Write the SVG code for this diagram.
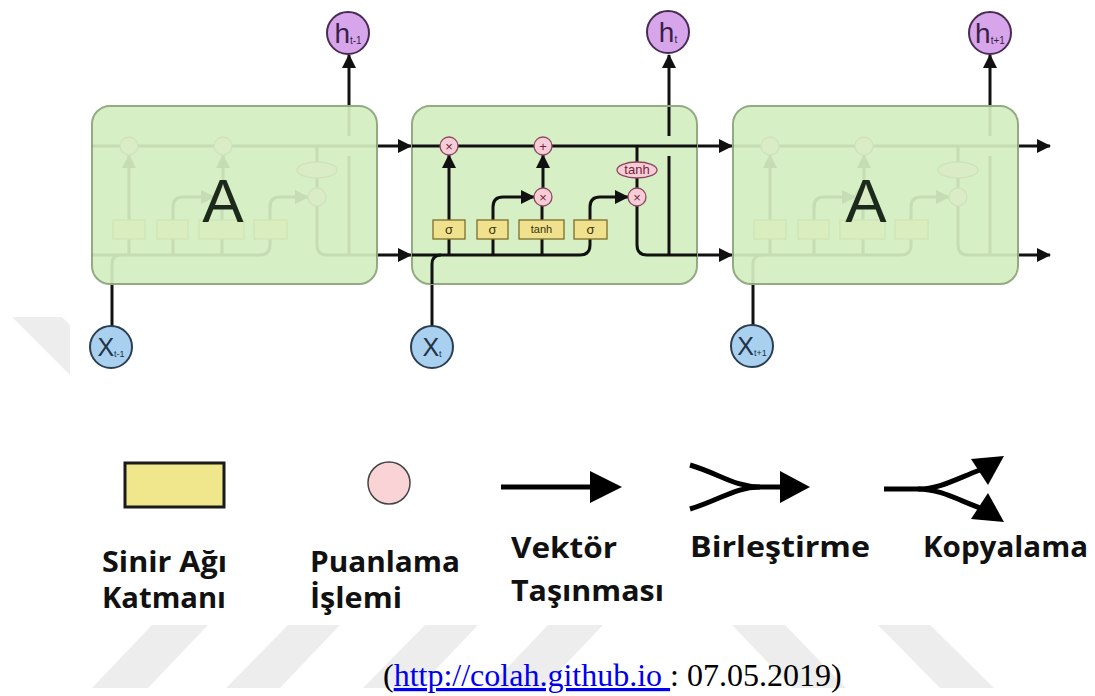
<svg xmlns="http://www.w3.org/2000/svg" xmlns:xlink="http://www.w3.org/1999/xlink" width="1095" height="696" viewBox="0 0 1095 696">
<style>
.cell{fill:#d7efc4;stroke:#93ab83;stroke-width:2}
.ln{fill:none;stroke:#111;stroke-width:3}
.la{fill:none;stroke:#111;stroke-width:3;marker-end:url(#ah)}
.op{fill:#f5cdd6;stroke:#8e4660;stroke-width:1.3}
.nn{fill:#f0e18e;stroke:#7d6d2a;stroke-width:1.3}
.opt{font-family:"Liberation Sans",Arial,sans-serif;font-size:13px;fill:#7a1c3c;text-anchor:middle}
.nnt{font-family:"Liberation Sans",Arial,sans-serif;fill:#3a3208;text-anchor:middle}
.hc{fill:#d7a6ea;stroke:#4a2a55;stroke-width:2}
.xc{fill:#a9d0ef;stroke:#2a3f55;stroke-width:2}
.ht{font-family:"Liberation Sans",Arial,sans-serif;fill:#3b1f48;text-anchor:middle}
.xt{font-family:"Liberation Sans",Arial,sans-serif;fill:#1f3347;text-anchor:middle}
.big{font-family:"Liberation Sans",Arial,sans-serif;font-size:62px;fill:#1c2a1c;text-anchor:middle}
.lg{font-family:"Open Sans","Liberation Sans",sans-serif;font-weight:bold;font-size:28px;fill:#111}
.wm{fill:#ededed}
.lgl{fill:none;stroke:#000;stroke-width:5}
</style>
<defs>
<marker id="ah" markerUnits="userSpaceOnUse" markerWidth="14" markerHeight="14" refX="13" refY="7" orient="auto">
<path d="M0,0 L14,7 L0,14 z" fill="#111"/>
</marker>
<g id="core">
<path class="ln" d="M412,146 H697"/>
<path class="ln" d="M412,255 H580 Q590,255 590,245 V239"/>
<path class="ln" d="M449,255 V239"/>
<path class="ln" d="M493,255 V239"/>
<path class="ln" d="M542,255 V239"/>
<path class="ln" d="M432,284 V264 Q432,255 441,255"/>
<path class="la" d="M449,220 V155"/>
<path class="la" d="M493,220 V207 Q493,197 503,197 H534"/>
<path class="ln" d="M542,220 V206"/>
<path class="la" d="M543,188 V155"/>
<path class="la" d="M590,220 V207 Q590,197 600,197 H628"/>
<path class="ln" d="M637,146 V162"/>
<path class="ln" d="M637,178 V188"/>
<path class="ln" d="M637,206 V245 Q637,255 647,255 H697"/>
<path class="ln" d="M669,156 V255"/>
<path class="ln" d="M669,107 V136"/>
<circle class="op" cx="449" cy="146" r="9"/>
<circle class="op" cx="543" cy="146" r="9"/>
<circle class="op" cx="543" cy="197" r="9"/>
<circle class="op" cx="637" cy="197" r="9"/>
<ellipse class="op" cx="637" cy="170" rx="20" ry="8"/>
<rect class="nn" x="433" y="220" width="32" height="19"/>
<rect class="nn" x="477" y="220" width="31" height="19"/>
<rect class="nn" x="519" y="220" width="45" height="19"/>
<rect class="nn" x="574" y="220" width="33" height="19"/>
</g>
</defs>

<g id="watermark">
<polygon class="wm" points="12,317 62,317 70,325 70,375"/>
<polygon class="wm" points="152,625 208,625 148,688 92,688"/>
<polygon class="wm" points="288,625 340,625 280,688 226,688"/>
<polygon class="wm" points="425,625 478,625 418,688 363,688"/>
<polygon class="wm" points="548,625 603,625 543,688 488,688"/>
<polygon class="wm" points="732,625 785,625 846,688 792,688"/>
<polygon class="wm" points="878,625 930,625 994,688 940,688"/>
</g>

<g id="connectors">
<path class="la" d="M377,146 H411"/>
<path class="la" d="M377,255 H411"/>
<path class="la" d="M697,146 H732"/>
<path class="la" d="M697,255 H732"/>
<path class="la" d="M1018,146 H1050"/>
<path class="la" d="M1018,255 H1050"/>
<path class="la" d="M349,107 V55"/>
<path class="la" d="M669,107 V55"/>
<path class="la" d="M990,107 V55"/>
<path class="ln" d="M112,326 V284"/>
<path class="ln" d="M432,326 V284"/>
<path class="ln" d="M753,326 V284"/>
</g>

<g id="cell-left">
<rect class="cell" x="92" y="106" width="285" height="178" rx="18"/>
<use xlink:href="#core" href="#core" transform="translate(-320,0)" opacity="0.08"/>
<text class="big" x="223" y="222">A</text>
</g>

<g id="cell-mid">
<rect class="cell" x="412" y="106" width="285" height="178" rx="18"/>
<use xlink:href="#core" href="#core"/>
<text class="opt" x="449" y="150.5">×</text>
<text class="opt" x="543" y="150.5">+</text>
<text class="opt" x="543" y="201.5">×</text>
<text class="opt" x="637" y="201.5">×</text>
<text class="opt" x="637" y="174" font-size="10">tanh</text>
<text class="nnt" x="449" y="234" font-size="13">σ</text>
<text class="nnt" x="492.5" y="234" font-size="13">σ</text>
<text class="nnt" x="541.5" y="233" font-size="11">tanh</text>
<text class="nnt" x="590.5" y="234" font-size="13">σ</text>
</g>

<g id="cell-right">
<rect class="cell" x="733" y="106" width="285" height="178" rx="18"/>
<use xlink:href="#core" href="#core" transform="translate(321,0)" opacity="0.08"/>
<text class="big" x="866" y="222">A</text>
</g>

<g id="h-left">
<circle class="hc" cx="348" cy="33" r="21"/>
<text class="ht" x="348" y="43" font-size="28">h<tspan font-size="10" dy="1">t-1</tspan></text>
</g>
<g id="h-mid">
<circle class="hc" cx="668" cy="32" r="21"/>
<text class="ht" x="668" y="42" font-size="28">h<tspan font-size="10" dy="1">t</tspan></text>
</g>
<g id="h-right">
<circle class="hc" cx="990" cy="33" r="21"/>
<text class="ht" x="990" y="43" font-size="28">h<tspan font-size="10" dy="1">t+1</tspan></text>
</g>

<g id="x-left">
<circle class="xc" cx="111" cy="347" r="21"/>
<text class="xt" x="111" y="356" font-size="25">X<tspan font-size="9" dy="1">t-1</tspan></text>
</g>
<g id="x-mid">
<circle class="xc" cx="432" cy="347" r="21"/>
<text class="xt" x="432" y="356" font-size="25">X<tspan font-size="9" dy="1">t</tspan></text>
</g>
<g id="x-right">
<circle class="xc" cx="752" cy="346" r="21"/>
<text class="xt" x="752" y="355" font-size="25">X<tspan font-size="9" dy="1">t+1</tspan></text>
</g>

<g id="legend-layer">
<rect x="125" y="463" width="99" height="44" fill="#f0e68c" stroke="#1a1a1a" stroke-width="3"/>
<text class="lg" x="102" y="572" textLength="125" lengthAdjust="spacingAndGlyphs">Sinir Ağı</text>
<text class="lg" x="102" y="608" textLength="124" lengthAdjust="spacingAndGlyphs">Katmanı</text>
</g>
<g id="legend-pointwise">
<circle cx="389" cy="483" r="21" fill="#f9d3d6" stroke="#444" stroke-width="1.5"/>
<text class="lg" x="310" y="572" textLength="150" lengthAdjust="spacingAndGlyphs">Puanlama</text>
<text class="lg" x="310" y="608" textLength="92" lengthAdjust="spacingAndGlyphs">İşlemi</text>
</g>
<g id="legend-vector">
<path class="lgl" d="M501,487 H592"/>
<polygon points="590,471 622,487 590,503" fill="#000"/>
<text class="lg" x="511" y="558" textLength="106" lengthAdjust="spacingAndGlyphs">Vektör</text>
<text class="lg" x="511" y="601" textLength="153" lengthAdjust="spacingAndGlyphs">Taşınması</text>
</g>
<g id="legend-concat">
<path class="lgl" d="M690,465 C720,474 735,487 760,487 H782"/>
<path class="lgl" d="M690,509 C720,500 735,487 760,487"/>
<polygon points="780,471 810,487 780,503" fill="#000"/>
<text class="lg" x="690" y="557" textLength="180" lengthAdjust="spacingAndGlyphs">Birleştirme</text>
</g>
<g id="legend-copy">
<path class="lgl" d="M884,489 H918 C940,489 958,478 980,470"/>
<path class="lgl" d="M918,489 C940,489 958,500 980,508"/>
<polygon points="1004,456 971,459 988,485" fill="#000"/>
<polygon points="1004,522 971,519 988,493" fill="#000"/>
<text class="lg" x="923" y="557" textLength="165" lengthAdjust="spacingAndGlyphs">Kopyalama</text>
</g>

<g id="citation">
<text x="383" y="686" font-family="Liberation Serif,'Times New Roman',serif" font-size="32" fill="#000" style="white-space:pre">(<tspan fill="#0000ee" text-decoration="underline">http://colah.github.io </tspan>: 07.05.2019)</text>
</g>
</svg>
